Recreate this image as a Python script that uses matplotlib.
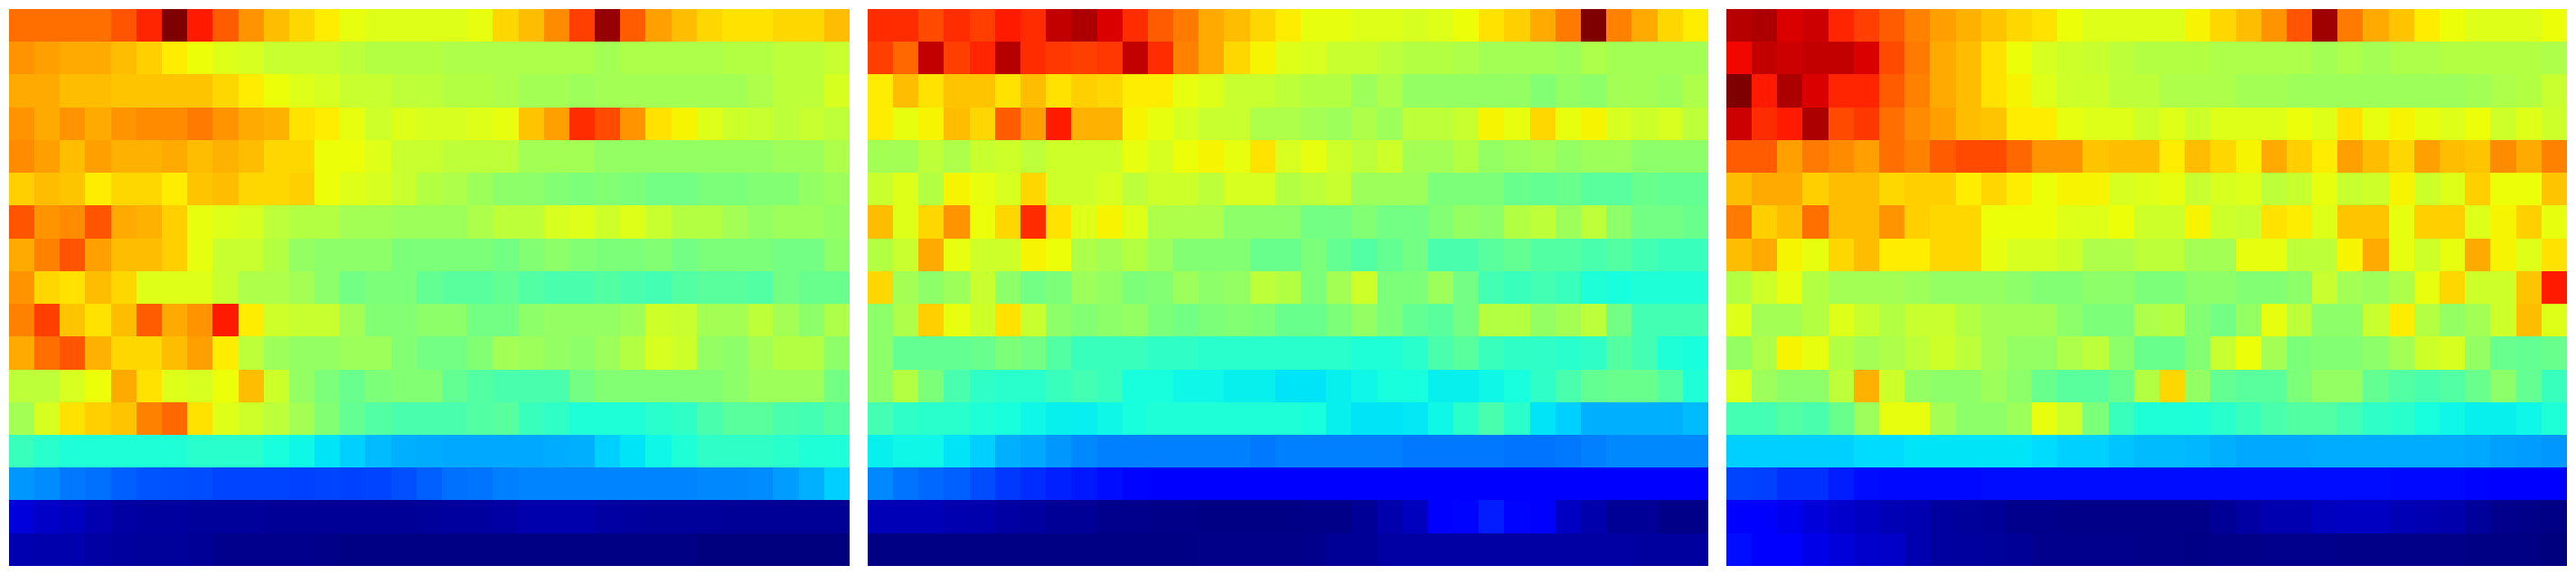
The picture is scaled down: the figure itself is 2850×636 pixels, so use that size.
import numpy as np
import matplotlib
matplotlib.use("Agg")
import matplotlib.pyplot as plt

# values, jet colour scale 0..100, top row first
panel1 = [
[79,79,79,79,82,87,100,88,81,75,71,68,66,63,62,62,62,62,63,68,71,76,84,98,81,74,71,68,67,67,68,68,71],
[75,74,73,73,71,69,66,64,62,61,59,59,59,58,57,57,57,56,56,56,56,56,56,55,56,56,56,56,57,57,58,58,59],
[73,73,71,71,70,70,70,70,68,66,64,62,61,59,59,58,58,57,57,56,55,55,54,55,55,55,55,55,55,56,58,58,61],
[75,73,75,73,75,76,76,78,75,73,72,67,66,63,60,62,61,61,62,63,70,74,86,83,75,67,65,62,60,59,58,59,58],
[76,74,71,74,72,72,73,71,72,71,68,68,64,64,62,59,59,58,58,58,55,55,55,53,53,53,53,53,53,53,54,54,56],
[69,71,70,66,68,68,66,70,71,68,68,69,64,62,61,59,57,56,54,52,52,51,50,51,50,49,49,50,50,51,51,53,54],
[82,75,76,82,73,72,69,63,62,61,58,57,57,55,55,54,54,54,56,58,58,61,62,60,62,59,57,57,55,53,54,54,53],
[73,77,82,74,71,71,69,63,59,59,57,53,52,52,52,50,50,50,50,49,51,52,51,50,50,51,49,50,50,50,49,49,52],
[75,68,67,71,68,62,62,62,59,56,56,55,52,49,50,50,47,46,46,47,45,44,44,45,44,43,45,46,46,45,49,48,48],
[77,84,70,67,71,81,73,75,88,66,60,59,59,55,51,51,52,52,49,49,52,53,53,53,54,60,59,55,55,58,55,52,56],
[73,79,82,72,68,68,71,74,66,58,54,53,53,54,54,51,49,49,51,55,54,53,52,54,57,61,60,53,52,55,57,57,52],
[58,58,61,64,73,67,62,61,64,71,60,53,50,48,50,51,51,47,45,44,44,44,49,51,51,51,51,51,52,54,54,54,49],
[55,61,67,69,70,77,80,67,62,60,58,55,51,47,45,44,44,44,45,46,42,41,39,39,39,40,41,44,46,46,44,43,45],
[42,40,39,39,39,39,39,40,40,40,38,37,35,33,31,30,29.5,29,29,29,29,29.5,30,33,35,37,39,41,41,41,40,39,39],
[27.5,26.5,24.5,23.5,22,21,20.5,20,19.5,19.5,19.5,19,19.5,19,19.5,20.5,22,23.5,24,25,25.5,25.5,25.5,25.5,25.5,25.5,25.5,26,26,26.5,28,30,33],
[8,6.5,5.5,4.5,3.5,3,3,2.5,2.5,2.5,2,2,2,2,2,2,2.5,3,3,3.5,4,4,4,3.5,3,2.5,2.5,2.5,2,2,2,2,2],
[4.5,4,4,3.5,3,2.5,2.5,2,1.5,1.5,1.5,1.5,1,0.5,0.5,0.5,0.5,0.5,0.5,0.5,0.5,0.5,0.5,0.5,0.5,0.5,0.5,0,0,0,0,0,0],
]
panel2 = [
[86,86,83,86,84,88,86,94,96,92,86,81,78,73,71,68,66,63,63,62,62,61,62,64,67,69,73,78,100,77,73,68,66],
[84,80,94,84,87,95,86,85,84,85,94,86,77,73,68,65,62,61,59,59,58,57,57,56,55,55,55,54,56,55,55,55,55],
[66,71,67,70,70,67,71,67,69,68,66,66,63,62,59,59,58,57,57,54,56,53,53,53,53,53,51,53,52,55,55,54,56],
[66,63,65,71,68,81,74,88,72,72,65,63,61,59,59,56,56,55,54,56,54,58,58,59,65,63,68,63,65,61,60,61,58],
[55,55,58,56,59,60,58,60,60,60,63,61,64,65,63,67,61,63,60,58,60,55,55,57,53,54,55,53,54,54,52,52,52],
[59,62,57,65,63,61,68,60,60,61,58,60,60,58,61,61,57,58,59,54,54,54,50,50,50,48,47,48,46,46,48,47,47],
[71,62,68,75,64,68,86,67,62,65,62,56,56,56,52,52,52,49,49,51,49,49,51,53,52,57,58,54,58,52,49,49,48],
[57,59,73,63,60,60,65,64,56,55,57,54,51,51,51,48,48,50,47,45,47,49,44,44,46,47,45,45,44,45,43,42,42],
[68,55,52,54,59,52,49,50,54,53,50,51,54,52,53,58,57,50,55,60,50,50,54,49,43,42,43,42,39,38,39,39,39],
[52,56,69,63,60,67,59,52,51,52,53,50,49,50,51,50,48,48,50,53,50,47,46,49,57,57,53,55,58,49,43,43,43],
[52,47,47,47,48,50,49,45,42,42,42,41,41,40,40,40,40,40,40,39,39,40,44,46,42,41,41,40,41,45,43,39,38],
[52,57,50,44,41,40,40,42,43,42,38,38,37,37,36,36,35,35,36,37,38,38,36,36,37,38,41,44,47,48,48,45,39],
[43,41,40,40,39,38,37,36,36,37,38,39,39,39,39,39,39,38,36,35,35,35.5,37,40,44,40,35,33,30,30,30,30,31],
[36,37,37,35,33,30,29,27.5,26,25,25,25,25,25,25,24.5,25,25,25,25,25,24.5,24.5,24.5,24.5,24,24,24.5,25,26,26,26,26],
[26,24,23,22,20,18,17,16,15,14,13,12.5,12.5,11,11,11,11,11,11,11,11,11,11,11,11,11,11,11,11,11,11,11,11],
[5,5,5,4.5,4,3.5,3,2,2,1.5,1.5,1,1,0.5,0.5,0.5,0.5,1,1,2,4,5.5,11,13,15.5,13,11,6,4,2,2,1,1],
[0.5,0.5,0.5,0.5,0.5,0.5,0.5,0.5,0.5,0.5,0.5,0.5,0.5,1,1,1,1,1.5,2,2,3.5,3.5,3.5,3.5,3.5,3.5,3.5,3.5,3.5,3.5,3,3,3],
]
panel3 = [
[95,96,92,93,87,84,81,77,74,72,70,68,67,64,62,62,62,62,65,68,71,75,82,97,78,73,70,66,64,62,62,62,64],
[90,94,93,94,94,92,83,78,73,71,67,64,61,60,59,58,57,57,57,56,56,56,56,55,56,55,56,56,57,57,57,57,56],
[100,88,96,92,87,87,81,77,73,71,67,65,62,60,60,58,58,56,56,56,55,55,54,54,54,54,54,54,54,55,56,57,59],
[93,86,88,96,83,85,79,76,74,71,70,66,66,63,62,62,60,62,60,62,62,62,64,62,67,63,65,63,62,64,60,62,60],
[81,81,74,78,76,74,79,77,81,83,83,80,75,75,70,71,71,66,71,68,65,73,69,66,74,71,68,74,71,70,76,73,77],
[71,73,73,69,71,71,68,69,69,66,68,66,64,65,65,61,62,63,59,61,62,58,59,63,59,60,65,60,62,69,64,64,70],
[78,69,71,79,71,71,75,69,68,68,64,64,64,62,62,64,60,60,65,60,59,67,66,62,70,70,63,69,69,62,65,69,63],
[71,73,65,63,68,71,66,66,68,68,63,61,61,60,56,56,58,58,55,55,63,63,58,58,65,73,63,60,63,73,65,62,67],
[57,60,63,57,55,55,55,54,53,53,53,52,51,51,52,52,50,50,52,52,51,51,52,59,55,54,56,63,68,60,60,70,88],
[62,55,55,57,62,59,57,59,59,57,55,55,55,52,50,50,56,57,51,49,53,63,58,52,52,59,66,57,53,55,60,71,62],
[53,56,65,63,57,55,56,58,60,58,55,53,53,56,58,52,48,48,51,59,64,55,50,51,51,52,55,60,61,53,48,47,48],
[62,54,52,52,58,72,60,53,52,52,54,52,48,46,46,48,57,68,53,47,46,46,50,53,53,47,45,44,45,48,52,47,42],
[43,43,45,44,48,54,63,63,55,52,52,54,63,60,50,42,39,39,39,40,42,44,45,45,43,41,40,38,37,36,36,37,39],
[33,33,33,33,33,34,34,35,35,35,35,35,34,33,33,32,31,31,30.5,30,29,29,29,29.5,29.5,29.5,29.5,29.5,29.5,29,28.5,28,27.5],
[19.5,19,17.5,17.5,15.5,14,13.5,13.5,13.5,13.5,14,14,14,14,14,14,14,14,14,14,14,14,14,14,14,14,13.5,13.5,13.5,13,12.5,12,12],
[11,11,10,8,7,6,5,4.5,3,2.5,2,1.5,1.5,1,1,1,1,1,1,2,3.5,4.5,4.5,5.5,6,6,5,4.5,4,2.5,1.5,1,0.5],
[14,11,11,9,8,7,6.5,4.5,3,3,2.5,2,1.5,1.5,1.5,1.5,1,1,0.5,1,1,1.5,1.5,1.5,1,1,1,1,1,0.5,0.5,0.5,0],
]

W, H = 2850, 636
lefts = [10.3, 960.3, 1910.3]
pw = 929.4
top, bottom = 10, 626

fig = plt.figure(figsize=(W/100, H/100), dpi=100)
for left, vals in zip(lefts, [panel1, panel2, panel3]):
  for i, r in enumerate(vals):
    if len(r) != 33: print("bad row", i, len(r))
  ax = fig.add_axes([left/W, 1-bottom/H, pw/W, (bottom-top)/H])
  ax.imshow(np.array(vals), cmap="jet", vmin=0, vmax=100, aspect="auto", interpolation="nearest")
  ax.axis("off")

fig.savefig("out.png", dpi=100)
